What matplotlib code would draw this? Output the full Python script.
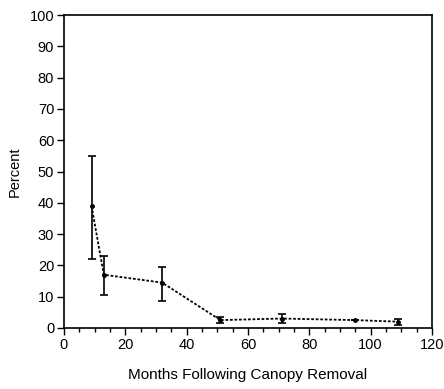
import numpy as np
import matplotlib.pyplot as plt
from matplotlib.ticker import MultipleLocator

plt.rcParams['font.family'] = ['Liberation Sans', 'DejaVu Sans']

months = [9, 13, 32, 51, 71, 95, 109]
percent = [39, 17, 14.5, 2.5, 3, 2.5, 2]
err_low = [22, 10.5, 8.5, 1.5, 1.5, 2.5, 1]
err_high = [55, 23, 19.5, 3.5, 4.5, 2.5, 3]

yerr = [np.array(percent) - np.array(err_low), np.array(err_high) - np.array(percent)]

fig = plt.figure(figsize=(4.44, 3.89), dpi=100)
ax = fig.add_axes([0.144, 0.157, 0.829, 0.804])

ax.errorbar(months, percent, yerr=yerr, color='black', ls=(0, (1.5, 1)), lw=1.3,
            marker='o', ms=2.5, elinewidth=1.2, capsize=3, capthick=1.2)

ax.set_xlim(0, 120)
ax.set_ylim(0, 100)
ax.xaxis.set_major_locator(MultipleLocator(20))
ax.xaxis.set_minor_locator(MultipleLocator(5))
ax.yaxis.set_major_locator(MultipleLocator(10))
ax.tick_params(direction='out', labelsize=10.5, length=5, width=1, pad=2)
ax.tick_params(which='minor', direction='out', length=3, width=1)
ax.tick_params(axis='y', which='minor', left=False)
for s in ax.spines.values():
    s.set_linewidth(1.2)

ax.set_xlabel('Months Following Canopy Removal', fontsize=11, labelpad=12)
ax.set_ylabel('Percent', fontsize=10.5, labelpad=6)

plt.savefig('out.png')
